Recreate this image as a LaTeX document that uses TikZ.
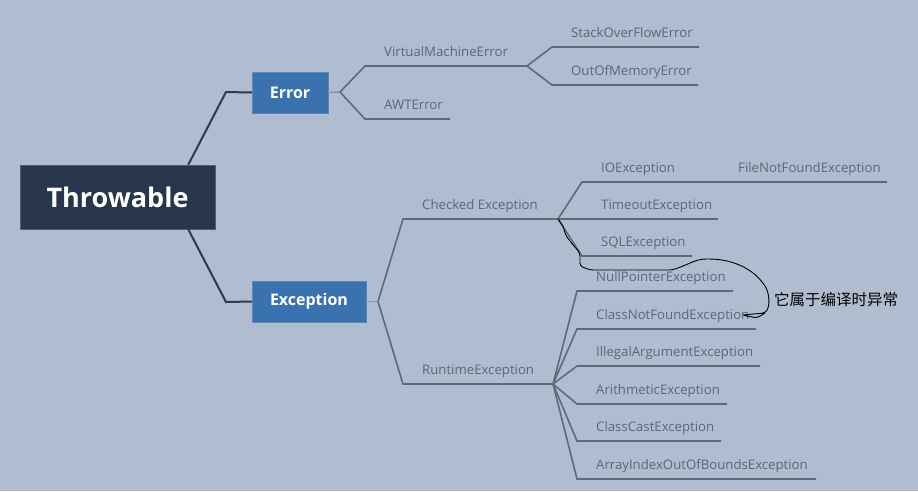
\documentclass[tikz,border=0pt]{standalone}
\usepackage{fontspec}
\setmainfont{Open Sans}
\newfontfamily\cjk{Noto Sans CJK SC}
\definecolor{bgc}{HTML}{B0BDD0}
\definecolor{rootc}{HTML}{27364A}
\definecolor{mainc}{HTML}{3A72B0}
\definecolor{txtc}{HTML}{5B6779}
\definecolor{linec}{HTML}{5E6A7C}
\definecolor{stubc}{HTML}{8C97A8}
\definecolor{darkc}{HTML}{2C3A4C}
\tikzset{
  rootbox/.style={fill=rootc,draw=rootc!80!white,text=white,inner sep=0pt,font=\fontsize{27}{30}\selectfont\bfseries},
  mainbox/.style={fill=mainc,draw=mainc!85!white,text=white,inner sep=0pt,font=\fontsize{16}{19}\selectfont\bfseries},
  lbl/.style={anchor=base west,inner sep=0pt,text=txtc,font=\fontsize{13.2}{15}\selectfont},
  sub/.style={draw=linec,line width=1.6pt},
  stub/.style={draw=stubc,line width=1.6pt},
  trunk/.style={draw=darkc,line width=2pt},
  hand/.style={draw=black,line width=0.9pt},
}
\newcommand\mytopic[5]{%
  \coordinate (#1s) at (#2,#4);
  \coordinate (#1e) at (#3,#4);
  \node[lbl] (#1) at (#2+19,#4-10) {#5};}
\begin{document}
\begin{tikzpicture}[x=1pt,y=-1pt]
\fill[bgc] (0,0) rectangle (918,491);
\useasboundingbox (0,0) rectangle (918,491);

% main boxes
\node[rootbox,minimum width=195pt,minimum height=64pt] (thr) at (117.5,197) {Throwable};
\node[mainbox,minimum width=76pt,minimum height=41pt] (err) at (290,92.5) {Error};
\node[mainbox,minimum width=114pt,minimum height=41pt] (exc) at (309,301.5) {Exception};

\draw[trunk] ([xshift=-27pt]thr.north east) -- (226,92) -- (err.west);
\draw[trunk] ([xshift=-27pt]thr.south east) -- (226,302) -- (exc.west);

% Error branch
\coordinate (errB) at (340,92);
\draw[stub] (err.east) -- (errB);
\mytopic{vme}{365}{527}{66}{VirtualMachineError}
\mytopic{awt}{365}{450}{119}{AWTError}
\draw[sub] (errB) -- (vmes) -- (vmee);
\draw[sub] (errB) -- (awts) -- (awte);

\mytopic{so}{552}{699}{47}{StackOverFlowError}
\mytopic{oom}{552}{698}{85}{OutOfMemoryError}
\draw[sub] (vmee) -- (sos) -- (soe);
\draw[sub] (vmee) -- (ooms) -- (oome);

% Exception branch
\coordinate (excB) at (378,301.5);
\draw[stub] (exc.east) -- (excB);
\mytopic{chk}{403}{558}{219}{Checked Exception}
\mytopic{rt}{403}{553}{384}{RuntimeException}
\draw[sub] (excB) -- (chks) -- (chke);
\draw[sub] (excB) -- (rts) -- (rte);

% Checked children
\mytopic{io}{582}{887}{182}{IOException}
\node[lbl] (fnf) at (738,172) {FileNotFoundException};
\mytopic{to}{582}{718}{219}{TimeoutException}
\mytopic{sql}{582}{692}{256}{SQLException}
\draw[sub] (chke) -- (ios) -- (ioe);
\draw[sub] (chke) -- (tos) -- (toe);
\draw[sub] (chke) -- (sqls) -- (sqle);

% Runtime children
\mytopic{npe}{577}{733}{291}{NullPointerException}
\mytopic{cnf}{577}{756}{329}{ClassNotFoundException}
\mytopic{iae}{577}{760}{366}{IllegalArgumentException}
\mytopic{ari}{577}{727}{404}{ArithmeticException}
\mytopic{cce}{577}{721}{441}{ClassCastException}
\mytopic{aio}{577}{816}{479}{ArrayIndexOutOfBoundsException}
\foreach \n in {npe,cnf,iae,ari,cce,aio}{
  \draw[sub] (rte) -- (\n s) -- (\n e);
}

% hand-drawn annotation
\coordinate (hEnd) at (742,315);
\draw[hand,rounded corners=3pt] (chke) -- (563,226) -- (566,236) -- (574,246) -- (580,253) -- (580,266)
  .. controls (590,270) .. (600,270) -- (672,270)
  .. controls (690,264) and (695,259) .. (710,259)
  .. controls (735,260) and (752,270) .. (762,282)
  .. controls (770,292) and (770,306) .. (765,313) -- (hEnd) -- (757,318) -- (765,313);
\node[anchor=west,inner sep=0pt,font=\cjk\fontsize{15.5}{17}\selectfont] (note) at (774,300) {它属于编译时异常};
\end{tikzpicture}
\end{document}
